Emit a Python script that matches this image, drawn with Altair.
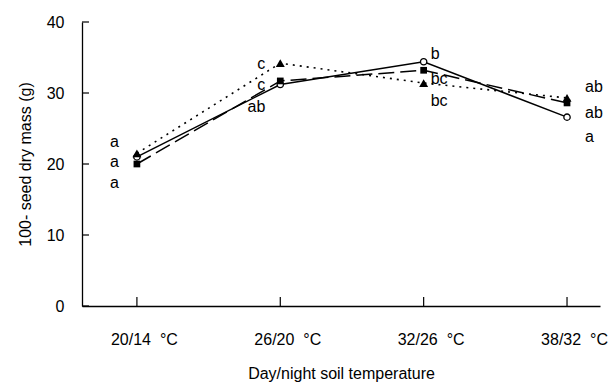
import altair as alt
import pandas as pd

# ---- data ----
categories = ["20/14\u00a0 °C", "26/20\u00a0 °C", "32/26\u00a0 °C", "38/32\u00a0 °C"]
open_circle = [21.0, 31.2, 34.4, 26.6]     # solid line, open circles
triangle = [21.5, 34.2, 31.4, 29.3]        # dotted line, filled triangles
square = [20.0, 31.7, 33.2, 28.6]          # long-dashed line, filled squares

label_cat = [0, 0, 0, 1, 1, 1, 2, 2, 2, 3, 3, 3]
label_text = ["a", "a", "a", "c", "c", "ab", "b", "bc", "bc", "ab", "ab", "a"]
label_y = [23.1, 20.3, 17.3, 34.1, 31.1, 28.0, 35.5, 32.0, 28.9, 30.8, 27.2, 23.8]

y_ticks = [0, 10, 20, 30, 40]

idx = list(range(len(categories)))
rows = []
for name, vals in [("open", open_circle), ("tri", triangle), ("sq", square)]:
    for i, v in zip(idx, vals):
        rows.append({"series": name, "idx": i, "val": v})
df = pd.DataFrame(rows)
labels = pd.DataFrame({"idx": label_cat, "text": label_text, "val": label_y})
xt = pd.DataFrame({"idx": idx})
yt = pd.DataFrame({"val": y_ticks})

FONT = "Liberation Sans"
label_js = "[" + ",".join("'" + c + "'" for c in categories) + "][datum.value]"

xscale = alt.Scale(domain=[-0.383, 3.23], nice=False, zero=False)
yscale = alt.Scale(domain=[0, 40], nice=False)

xenc = alt.X("idx:Q", scale=xscale,
             axis=alt.Axis(values=idx, labelExpr=label_js, title="Day/night soil temperature",
                           grid=False, ticks=False, labelPadding=25, titlePadding=18,
                           labelFontSize=16, titleFontSize=16, labelFont=FONT, titleFont=FONT,
                           labelOffset=7, labelFlush=False, labelOverlap=False,
                           titleFontWeight="normal", labelColor="black", titleColor="black",
                           domainColor="black", domainWidth=1.3))
yenc = alt.Y("val:Q", scale=yscale,
             axis=alt.Axis(values=y_ticks, title="100- seed dry mass (g)", grid=False, ticks=False,
                           labelPadding=18, titlePadding=13, labelFontSize=16, titleFontSize=16,
                           labelFont=FONT, titleFont=FONT, titleFontWeight="normal",
                           labelColor="black", titleColor="black", domainColor="black",
                           domainWidth=1.3))

base = alt.Chart(df)

def line(series, dash, width):
    props = dict(color="black", strokeWidth=width)
    if dash:
        props["strokeDash"] = dash
    return base.transform_filter(alt.datum.series == series).mark_line(**props).encode(x=xenc, y=yenc)

l_open = line("open", None, 1.5)
l_tri = line("tri", [2, 5], 1.6)
l_sq = line("sq", [16, 6], 1.5)

p_tri = base.transform_filter(alt.datum.series == "tri").mark_point(
    shape="triangle-up", filled=True, color="black", size=80, opacity=1).encode(x="idx:Q", y="val:Q")
p_sq = base.transform_filter(alt.datum.series == "sq").mark_point(
    shape="square", filled=True, color="black", size=45, opacity=1).encode(x="idx:Q", y="val:Q")
p_open = base.transform_filter(alt.datum.series == "open").mark_point(
    shape="circle", filled=True, fill="white", stroke="black", strokeWidth=1.3, size=40, opacity=1
).encode(x="idx:Q", y="val:Q")

xticks = alt.Chart(xt).mark_rule(color="black", strokeWidth=1.2).encode(
    x="idx:Q", y=alt.value(284), y2=alt.value(275))
yticks = alt.Chart(yt).mark_rule(color="black", strokeWidth=1.2).encode(
    y="val:Q", x=alt.value(0), x2=alt.value(7))

text_layers = []
for c, dx, align in [(0, -18, "right"), (1, -15, "right"), (2, 7, "left"), (3, 18, "left")]:
    text_layers.append(
        alt.Chart(labels).transform_filter(alt.datum.idx == c).mark_text(
            align=align, baseline="middle", dx=dx, fontSize=16, font=FONT, color="black"
        ).encode(x="idx:Q", y="val:Q", text="text:N")
    )

chart = alt.layer(
    l_open, l_tri, l_sq, xticks, yticks, p_open, p_sq, p_tri, *text_layers
).properties(
    width=518, height=284,
    autosize=alt.AutoSizeParams(type="none"),
    padding={"left": 74, "top": 14, "right": 8, "bottom": 86},
    background="white",
).configure_view(stroke=None)

chart.save("out.html", embed_options={"renderer": "svg", "actions": False})
